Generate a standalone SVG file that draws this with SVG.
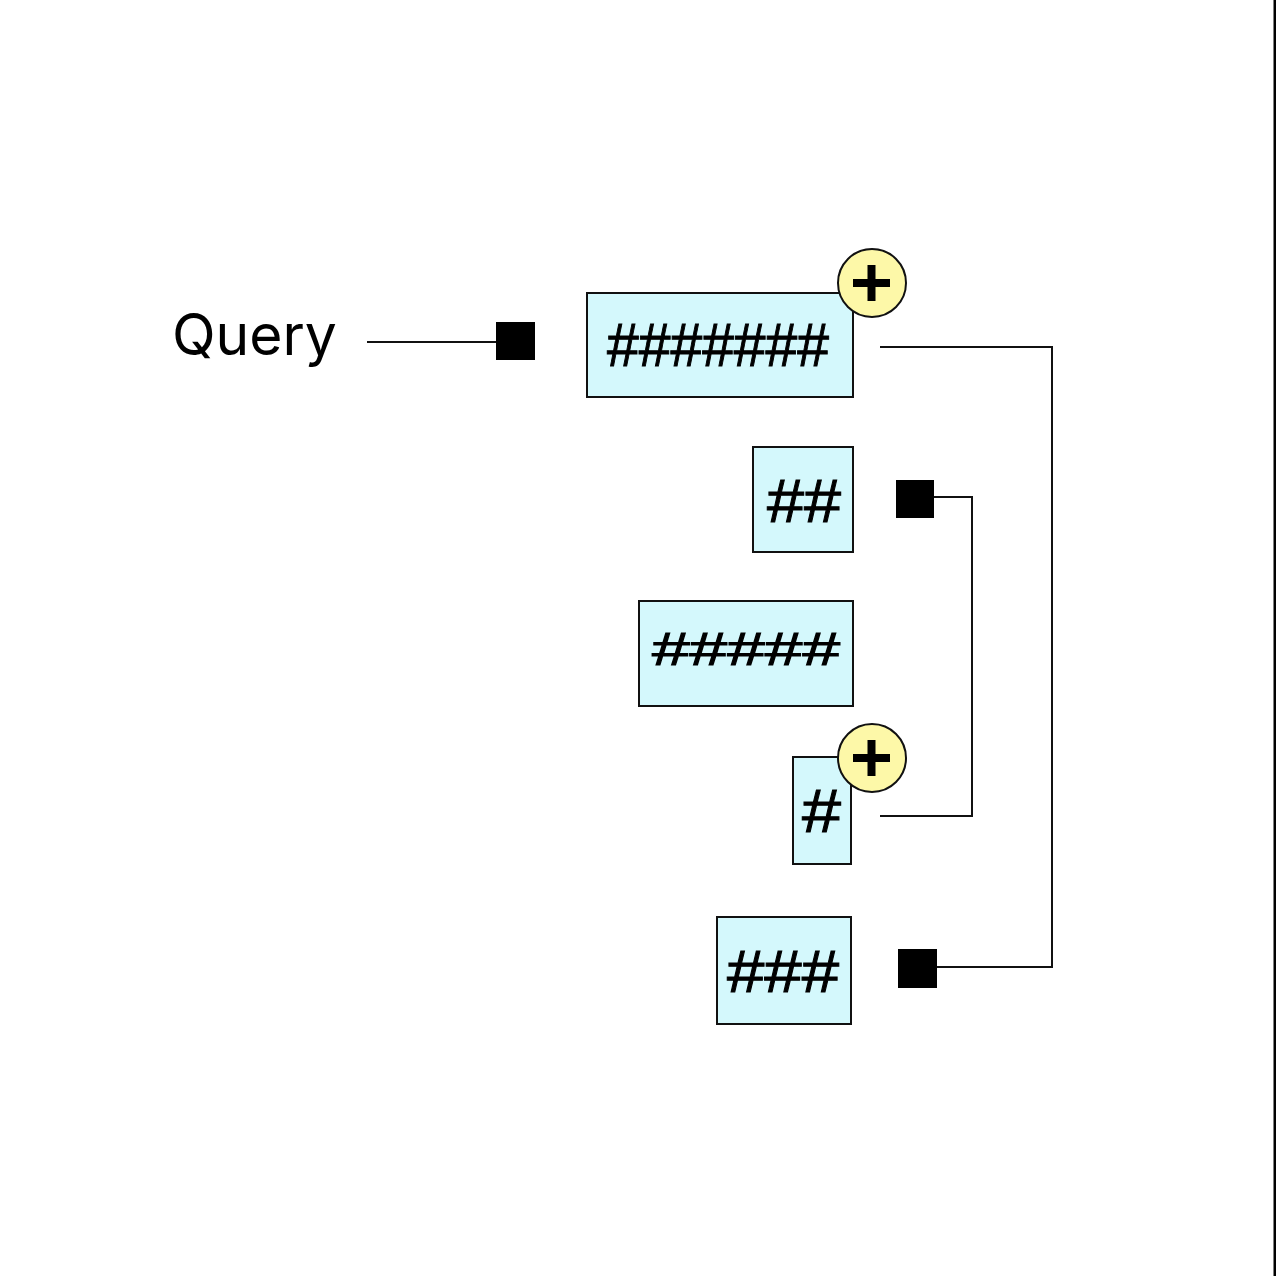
<svg xmlns="http://www.w3.org/2000/svg" width="1276" height="1276" viewBox="0 0 1276 1276">
<style>
.box{fill:#d4f8fc;stroke:#111;stroke-width:2}
.lbl{font-family:"Liberation Sans",Arial,sans-serif;fill:#000;stroke:#000;stroke-width:1}
.add{fill:#fdf8a8;stroke:#111;stroke-width:2}
.plus{stroke:#000;stroke-width:8;fill:none}
.wire{fill:none;stroke:#111;stroke-width:2}
.sq{fill:#000}
</style>
<rect width="1276" height="1276" fill="#fff"/>
<rect x="1273.5" y="0" width="2.5" height="1276" fill="#000"/>

<g id="query">
<text x="172" y="355" font-family="Inter,'Liberation Sans',sans-serif" font-size="57" fill="#000">Query</text>
</g>

<g id="connectors">
<path class="wire" d="M367 342H500"/>
<rect class="sq" x="496" y="322" width="39" height="38"/>
<path class="wire" d="M880 347H1052V967H934"/>
<rect class="sq" x="898" y="949" width="39" height="39"/>
<path class="wire" d="M930 497H972V816H880"/>
<rect class="sq" x="896" y="480" width="38" height="38"/>
</g>

<g id="node1">
<rect class="box" x="587" y="293" width="266" height="104"/>
<text class="lbl" x="607" y="366" font-size="61" textLength="222" lengthAdjust="spacingAndGlyphs">#######</text>
<circle class="add" cx="872" cy="283" r="34"/>
<path class="plus" d="M853 283H890M871.5 265V301"/>
</g>

<g id="node2">
<rect class="box" x="753" y="447" width="100" height="105"/>
<text class="lbl" x="767" y="522" font-size="61" textLength="74" lengthAdjust="spacingAndGlyphs">##</text>
</g>

<g id="node3">
<rect class="box" x="639" y="601" width="214" height="105"/>
<text class="lbl" x="652" y="665" font-size="46" textLength="188" lengthAdjust="spacingAndGlyphs">#####</text>
</g>

<g id="node4">
<rect class="box" x="793" y="757" width="58" height="107"/>
<text class="lbl" x="802" y="832" font-size="61" textLength="39" lengthAdjust="spacingAndGlyphs">#</text>
<circle class="add" cx="872" cy="758" r="34"/>
<path class="plus" d="M853 758H890M871.5 740V776"/>
</g>

<g id="node5">
<rect class="box" x="717" y="917" width="134" height="107"/>
<text class="lbl" x="727" y="992" font-size="59" textLength="112" lengthAdjust="spacingAndGlyphs">###</text>
</g>
</svg>
